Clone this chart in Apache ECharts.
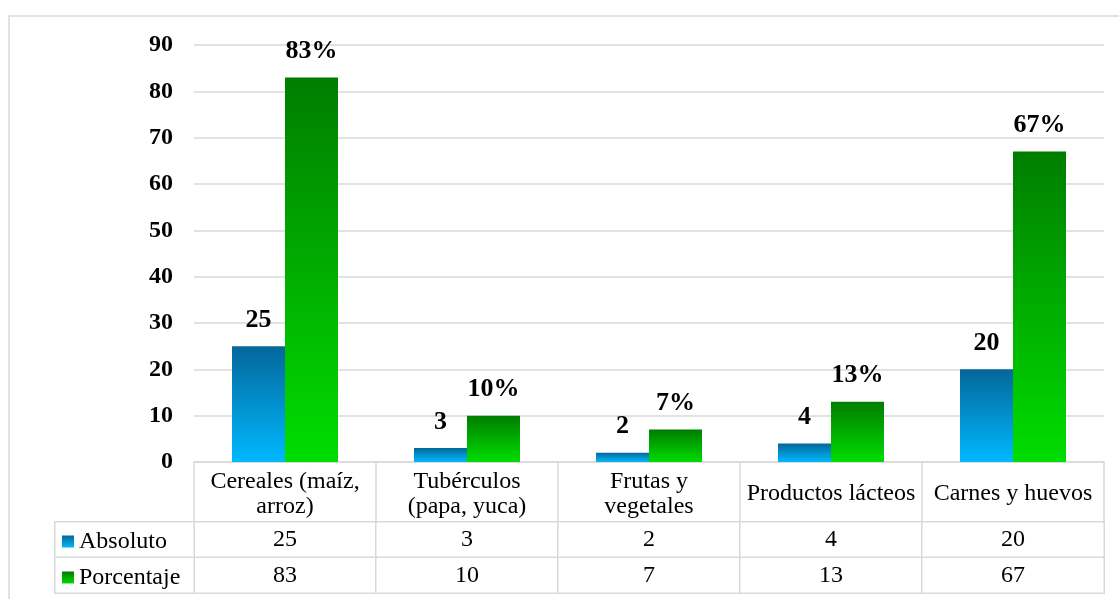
<!DOCTYPE html>
<html>
<head>
<meta charset="utf-8">
<title>Consumo por grupo de alimentos</title>
<script src="https://cdn.jsdelivr.net/npm/echarts@6/dist/echarts.min.js"></script>
<style>
  html, body { margin: 0; padding: 0; background: #fff; }
  #chart { width: 1119px; height: 599px; }
</style>
</head>
<body>
<div id="chart"></div>
<script>
// Food groups (table header / x categories)
const categories = ['Cereales (maíz,\narroz)', 'Tubérculos\n(papa, yuca)', 'Frutas y\nvegetales', 'Productos lácteos', 'Carnes y huevos'];
// Series values
const absoluto = [25, 3, 2, 4, 20];
const porcentaje = [83, 10, 7, 13, 67];
const seriesNames = ['Absoluto', 'Porcentaje'];
// Value axis ticks
const yTicks = [0, 10, 20, 30, 40, 50, 60, 70, 80, 90];

const GRID_LINE = '#d9d9d9';
const SERIF = '"Liberation Serif", "Times New Roman", serif';
const TABLE_FONT = 24;

const blueFill = new echarts.graphic.LinearGradient(0, 0, 0, 1, [
  { offset: 0, color: '#04679a' },
  { offset: 1, color: '#00b9ff' }
]);
const greenFill = new echarts.graphic.LinearGradient(0, 0, 0, 1, [
  { offset: 0, color: '#007d00' },
  { offset: 1, color: '#00dd00' }
]);

// Data-table cells: row 1 = Absoluto, row 0 = Porcentaje
const tableCells = [];
categories.forEach((c, i) => {
  tableCells.push([i, 1, absoluto[i]]);
  tableCells.push([i, 0, porcentaje[i]]);
});
const legendCells = [[0, 1, ''], [0, 0, '']];

const cellStyle = { color: '#ffffff', borderColor: GRID_LINE, borderWidth: 1.5 };

const chart = echarts.init(document.getElementById('chart'), null, { renderer: 'canvas' });

chart.setOption({
  animation: false,
  backgroundColor: '#ffffff',
  graphic: [{
    type: 'rect',
    silent: true,
    shape: { x: 9, y: 16, width: 1300, height: 800 },
    style: { fill: 'none', stroke: GRID_LINE, lineWidth: 1.5 }
  }],
  legend: {
    data: seriesNames,
    orient: 'vertical',
    left: 57,
    top: 524,
    padding: 5,
    itemWidth: 12,
    itemHeight: 12,
    itemGap: 11,
    icon: 'rect',
    selectedMode: false,
    textStyle: { fontFamily: SERIF, fontSize: TABLE_FONT, color: '#000', lineHeight: 25 }
  },
  grid: [
    { left: 194, right: 15, top: 45, bottom: 137 },
    { left: 194, right: 15, top: 522, bottom: 6 },
    { left: 55, width: 139, top: 522, bottom: 6 }
  ],
  xAxis: [
    {
      type: 'category',
      gridIndex: 0,
      data: categories,
      axisLine: { lineStyle: { color: GRID_LINE, width: 1.5 } },
      axisTick: { show: true, interval: 0, length: 60, lineStyle: { color: GRID_LINE, width: 1.5 } },
      axisLabel: {
        interval: 0,
        margin: 32,
        verticalAlign: 'middle',
        color: '#000',
        fontFamily: SERIF,
        fontSize: TABLE_FONT,
        lineHeight: 25
      }
    },
    { type: 'category', gridIndex: 1, data: categories, show: false },
    { type: 'category', gridIndex: 2, data: ['serie'], show: false }
  ],
  yAxis: [
    {
      type: 'value',
      gridIndex: 0,
      min: yTicks[0],
      max: yTicks[yTicks.length - 1],
      interval: 10,
      axisLine: { show: false },
      axisTick: { show: false },
      splitLine: { lineStyle: { color: GRID_LINE, width: 1.5 } },
      axisLabel: {
        margin: 21,
        color: '#000',
        fontFamily: SERIF,
        fontSize: 24,
        fontWeight: 'bold'
      }
    },
    { type: 'category', gridIndex: 1, data: ['Porcentaje', 'Absoluto'], show: false },
    { type: 'category', gridIndex: 2, data: ['Porcentaje', 'Absoluto'], show: false }
  ],
  series: [
    {
      name: seriesNames[0],
      type: 'bar',
      xAxisIndex: 0,
      yAxisIndex: 0,
      data: absoluto,
      barWidth: 53,
      barGap: '0%',
      itemStyle: { color: blueFill },
      label: {
        show: true,
        position: 'top',
        distance: 13,
        color: '#000',
        fontFamily: SERIF,
        fontSize: 26,
        fontWeight: 'bold'
      }
    },
    {
      name: seriesNames[1],
      type: 'bar',
      xAxisIndex: 0,
      yAxisIndex: 0,
      data: porcentaje,
      barWidth: 53,
      barGap: '0%',
      itemStyle: { color: greenFill },
      label: {
        show: true,
        position: 'top',
        distance: 13,
        formatter: '{c}%',
        color: '#000',
        fontFamily: SERIF,
        fontSize: 26,
        fontWeight: 'bold'
      }
    },
    {
      name: 'tabla',
      type: 'heatmap',
      xAxisIndex: 1,
      yAxisIndex: 1,
      data: tableCells,
      itemStyle: cellStyle,
      emphasis: { disabled: true },
      label: {
        show: true,
        formatter: p => String(p.value[2]),
        color: '#000',
        fontFamily: SERIF,
        fontSize: TABLE_FONT
      }
    },
    {
      name: 'leyenda',
      type: 'heatmap',
      xAxisIndex: 2,
      yAxisIndex: 2,
      data: legendCells,
      itemStyle: cellStyle,
      emphasis: { disabled: true },
      label: { show: false }
    }
  ]
});
</script>
</body>
</html>
